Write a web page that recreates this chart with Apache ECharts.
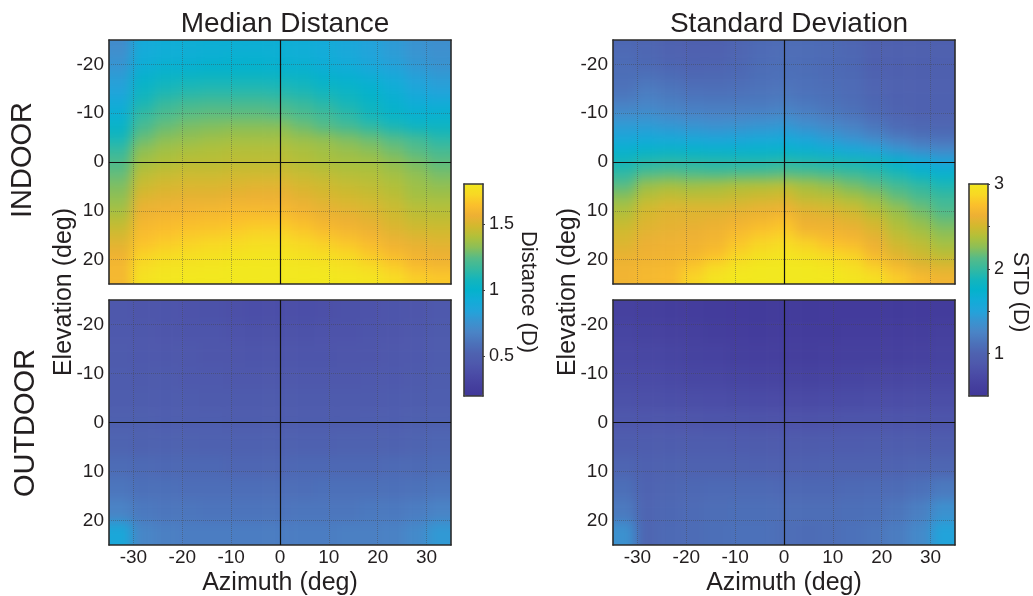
<!DOCTYPE html>
<html><head><meta charset="utf-8">
<style>html,body{margin:0;padding:0;background:#fff}#c{width:1033px;height:596px}
#c canvas[data-zr-dom-id="zr_0"]{filter:blur(6px);clip-path:inset(40px 582px 312px 109px)}
#c canvas[data-zr-dom-id="zr_1"]{filter:blur(6px);clip-path:inset(40px 78px 312px 613px)}
#c canvas[data-zr-dom-id="zr_2"]{filter:blur(6px);clip-path:inset(300px 582px 51px 109px)}
#c canvas[data-zr-dom-id="zr_3"]{filter:blur(6px);clip-path:inset(300px 78px 51px 613px)}
</style>
<script src="https://cdn.jsdelivr.net/npm/echarts@6/dist/echarts.min.js"></script>
</head><body><div id="c"></div>
<script>
const azimuthBins = [-32.7,-28,-23.3,-18.7,-14,-9.3,-4.7,0,4.7,9.3,14,18.7,23.3,28,32.7];
const elevationFine = [-23.8,-21.4,-19,-16.7,-14.3,-11.9,-9.5,-7.1,-4.8,-2.4,0,2.4,4.8,7.1,9.5,11.9,14.3,16.7,19,21.4,23.8];
const elevationCoarse = [-22.7,-18.2,-13.6,-9.1,-4.5,0,4.5,9.1,13.6,18.2,22.7];
const azimuthTicks = [-30,-20,-10,0,10,20,30];
const elevationTicks = [-20,-10,0,10,20];
const distanceTicks = [0.5,1,1.5];
const stdTicks = [1,1.5,2,2.5,3];
const stdTickLabels = [1,2,3];

const indoorMedian = [
[.72,.9,.93,.94,.95,.95,.95,.95,.93,.91,.88,.84,.8,.76,.74],
[.75,.92,.94,.95,.96,.97,.97,.96,.94,.92,.89,.85,.81,.77,.75],
[.78,.95,.98,.99,1.0,1.0,1.0,.99,.98,.95,.93,.89,.85,.8,.77],
[.82,1.01,1.05,1.07,1.08,1.08,1.08,1.07,1.05,1.01,.99,.96,.91,.84,.81],
[.85,1.05,1.1,1.12,1.13,1.13,1.13,1.12,1.1,1.07,1.04,1.0,.95,.88,.84],
[.91,1.1,1.17,1.2,1.21,1.21,1.21,1.2,1.17,1.13,1.09,1.04,.98,.93,.92],
[.96,1.16,1.22,1.25,1.26,1.26,1.26,1.25,1.22,1.19,1.14,1.08,1.02,.98,.98],
[1.02,1.21,1.27,1.3,1.31,1.32,1.32,1.32,1.28,1.24,1.2,1.15,1.1,1.05,1.05],
[1.09,1.27,1.32,1.34,1.36,1.37,1.37,1.37,1.35,1.33,1.3,1.27,1.23,1.19,1.13],
[1.16,1.33,1.37,1.39,1.4,1.41,1.41,1.41,1.39,1.37,1.35,1.32,1.28,1.24,1.2],
[1.22,1.37,1.4,1.42,1.42,1.43,1.43,1.43,1.41,1.39,1.38,1.37,1.33,1.29,1.25],
[1.26,1.42,1.45,1.46,1.46,1.47,1.47,1.47,1.45,1.43,1.41,1.4,1.37,1.33,1.29],
[1.3,1.46,1.49,1.5,1.5,1.51,1.52,1.52,1.49,1.47,1.45,1.43,1.4,1.36,1.33],
[1.33,1.51,1.53,1.54,1.54,1.55,1.56,1.56,1.53,1.5,1.48,1.46,1.43,1.38,1.37],
[1.37,1.55,1.57,1.58,1.59,1.6,1.6,1.6,1.57,1.54,1.52,1.5,1.46,1.42,1.41],
[1.42,1.59,1.61,1.62,1.63,1.64,1.65,1.65,1.62,1.58,1.56,1.53,1.49,1.45,1.44],
[1.47,1.62,1.64,1.66,1.67,1.68,1.7,1.7,1.67,1.63,1.6,1.57,1.52,1.49,1.48],
[1.52,1.65,1.68,1.7,1.72,1.73,1.75,1.75,1.72,1.69,1.66,1.62,1.57,1.54,1.52],
[1.57,1.7,1.73,1.75,1.76,1.77,1.78,1.78,1.76,1.74,1.72,1.67,1.62,1.58,1.56],
[1.6,1.74,1.77,1.78,1.79,1.8,1.8,1.8,1.79,1.78,1.76,1.73,1.68,1.62,1.6],
[1.6,1.77,1.79,1.8,1.8,1.8,1.8,1.8,1.8,1.8,1.79,1.78,1.74,1.69,1.67]];

const indoorStd = [
[1.05,1.03,1.0,.98,.98,1.02,1.06,1.08,1.08,1.06,1.03,.98,.97,.98,.98],
[1.07,1.04,1.01,.99,.99,1.03,1.07,1.09,1.08,1.06,1.04,.98,.97,.98,.98],
[1.09,1.08,1.05,1.02,1.03,1.05,1.09,1.1,1.09,1.07,1.05,.99,.98,.98,.98],
[1.1,1.14,1.1,1.06,1.06,1.08,1.1,1.12,1.1,1.08,1.06,1.01,.99,.98,.98],
[1.14,1.2,1.16,1.12,1.11,1.12,1.14,1.15,1.12,1.1,1.07,1.02,.99,.99,.99],
[1.23,1.26,1.22,1.19,1.18,1.18,1.18,1.2,1.17,1.13,1.09,1.04,1.0,.99,.99],
[1.33,1.34,1.3,1.27,1.26,1.26,1.27,1.29,1.24,1.19,1.14,1.07,1.02,1.0,1.0],
[1.45,1.45,1.42,1.39,1.37,1.38,1.4,1.42,1.36,1.3,1.24,1.16,1.07,1.04,1.03],
[1.56,1.59,1.57,1.54,1.52,1.53,1.55,1.57,1.52,1.44,1.37,1.29,1.2,1.14,1.12],
[1.72,1.76,1.77,1.75,1.73,1.73,1.74,1.75,1.71,1.65,1.59,1.51,1.4,1.32,1.28],
[1.88,1.94,1.96,1.95,1.94,1.93,1.93,1.95,1.93,1.91,1.89,1.85,1.73,1.62,1.52],
[1.98,2.1,2.13,2.1,2.08,2.1,2.11,2.13,2.11,2.07,2.03,1.98,1.9,1.78,1.73],
[2.13,2.3,2.34,2.32,2.34,2.37,2.38,2.4,2.34,2.28,2.2,2.14,2.05,1.98,1.9],
[2.25,2.4,2.45,2.43,2.43,2.46,2.48,2.5,2.42,2.4,2.34,2.27,2.16,2.08,2.02],
[2.36,2.5,2.55,2.55,2.55,2.57,2.6,2.62,2.55,2.52,2.47,2.37,2.28,2.18,2.08],
[2.43,2.54,2.58,2.58,2.6,2.64,2.68,2.73,2.62,2.6,2.56,2.48,2.35,2.26,2.17],
[2.5,2.58,2.6,2.62,2.65,2.71,2.77,2.81,2.68,2.67,2.63,2.55,2.41,2.34,2.25],
[2.54,2.62,2.64,2.65,2.68,2.78,2.86,2.9,2.84,2.76,2.72,2.62,2.48,2.42,2.33],
[2.6,2.64,2.66,2.68,2.75,2.86,2.93,2.96,2.93,2.88,2.84,2.7,2.56,2.48,2.42],
[2.65,2.68,2.7,2.78,2.88,2.96,3.0,3.0,3.0,2.97,2.92,2.82,2.7,2.58,2.54],
[2.66,2.7,2.72,2.86,2.96,3.0,3.0,3.0,3.0,3.0,2.97,2.93,2.82,2.72,2.66]];

const outdoorMedian = [
[.44,.43,.42,.41,.40,.39,.38,.38,.38,.39,.40,.41,.42,.43,.45],
[.45,.44,.43,.42,.42,.41,.40,.40,.40,.41,.41,.42,.43,.44,.46],
[.46,.45,.44,.44,.43,.43,.42,.42,.42,.42,.43,.43,.44,.45,.47],
[.47,.46,.46,.45,.45,.44,.44,.44,.44,.44,.44,.45,.45,.46,.48],
[.48,.48,.47,.47,.46,.46,.46,.46,.46,.46,.46,.46,.47,.48,.49],
[.50,.50,.49,.49,.49,.48,.48,.48,.48,.48,.48,.49,.49,.50,.51],
[.53,.52,.52,.52,.51,.51,.51,.51,.51,.51,.52,.52,.52,.53,.54],
[.57,.56,.55,.55,.55,.54,.54,.54,.55,.55,.55,.55,.56,.56,.57],
[.62,.59,.59,.58,.58,.58,.58,.58,.58,.59,.59,.59,.59,.60,.62],
[.68,.63,.62,.62,.61,.61,.61,.61,.62,.62,.62,.63,.63,.65,.68],
[.88,.69,.66,.65,.65,.65,.65,.65,.65,.65,.66,.66,.67,.71,.79]];

const outdoorStd = [
[.64,.62,.60,.58,.56,.55,.54,.54,.54,.55,.55,.55,.54,.55,.57],
[.68,.66,.64,.62,.60,.58,.56,.56,.56,.57,.58,.58,.58,.59,.62],
[.72,.70,.68,.66,.65,.63,.61,.60,.60,.61,.62,.63,.63,.64,.66],
[.76,.75,.73,.71,.70,.68,.67,.66,.66,.67,.68,.69,.69,.70,.71],
[.82,.80,.79,.78,.77,.76,.75,.74,.74,.75,.76,.77,.77,.78,.78],
[.88,.87,.87,.86,.85,.85,.84,.83,.83,.84,.85,.85,.85,.85,.85],
[.94,.94,.94,.94,.94,.93,.92,.91,.92,.93,.93,.94,.94,.94,.94],
[1.02,.99,1.0,1.0,1.0,1.0,.99,.98,.99,1.0,1.0,1.0,1.01,1.02,1.03],
[1.1,1.01,1.03,1.05,1.06,1.06,1.06,1.05,1.05,1.05,1.06,1.07,1.08,1.12,1.18],
[1.18,1.02,1.05,1.07,1.09,1.1,1.1,1.09,1.09,1.09,1.1,1.11,1.15,1.22,1.36],
[1.36,1.03,1.06,1.08,1.1,1.12,1.12,1.09,1.08,1.09,1.12,1.15,1.2,1.3,1.5]];

const colorRamp = ['#41389a','#45409e','#4a4ba6','#4e58ac','#4e62b0','#4c72ba','#4a84c6','#3a93d0','#22a3da','#12acd8','#04b2cc','#14b5bc','#35b9a0','#55bb88','#8abf58','#b0c03a','#d2b92e','#edb034','#fbbf2c','#f8d824','#f2e81e'];
const ink = '#231f20';
const fontFamily = '"Liberation Sans", Arial, sans-serif';
const top_layer = 4;
const PAD = 2;

const grids = [], xAxes = [], yAxes = [], series = [];
const noShow = {show: false};
function boxAxes(g, xOpt, yOpt, lineColor) {
  const edge = {show: true, onZero: false, lineStyle: {color: lineColor, width: 1.6}};
  const base = {gridIndex: g, type: 'value', zlevel: top_layer, z: 5, axisLine: edge, axisTick: noShow, axisLabel: noShow, splitLine: noShow};
  const xi = xAxes.length, yi = yAxes.length;
  xAxes.push(Object.assign({}, base, {position: 'bottom'}, xOpt));
  xAxes.push(Object.assign({}, base, {position: 'top', min: xOpt.min, max: xOpt.max}));
  yAxes.push(Object.assign({}, base, {position: 'left'}, yOpt.left));
  yAxes.push(Object.assign({}, base, {position: 'right'}, yOpt.right));
  return {xi, yi};
}
function padded(rows) {
  const wide = rows.map(r => [r[0], r[0], ...r, r[r.length - 1], r[r.length - 1]]);
  return [wide[0], wide[0], ...wide, wide[wide.length - 1], wide[wide.length - 1]];
}
function panel(layer, left, top, height, rows, yBins, showX) {
  const g = grids.length;
  grids.push({left, top, width: 342, height, show: false, outerBoundsMode: 'none'});
  const dotted = {show: true, lineStyle: {type: 'dotted', color: 'rgba(70,70,70,0.42)', width: 1}};
  const {xi, yi} = boxAxes(g,
    {min: -35, max: 35, axisTick: {show: false, customValues: azimuthTicks},
     axisLabel: showX ? {show: true, customValues: azimuthTicks, color: ink, fontSize: 19, fontFamily, margin: 3} : {show: false, customValues: azimuthTicks},
     splitLine: dotted, name: showX ? 'Azimuth (deg)' : '', nameLocation: 'middle', nameGap: 26,
     nameTextStyle: {color: ink, fontSize: 25, fontFamily}},
    {left: {inverse: true, min: -25, max: 25, axisTick: {show: false, customValues: elevationTicks},
       axisLabel: {show: true, customValues: elevationTicks, color: ink, fontSize: 19, fontFamily, margin: 5}, splitLine: dotted},
     right: {inverse: true, min: -25, max: 25}}, '#2b2b2b');

  // heatmap cells live on their own hidden axes, one canvas layer per panel
  const cw = 342 / azimuthBins.length, ch = height / yBins.length;
  const hg = grids.length;
  grids.push({left: left - PAD * cw, top: top - PAD * ch, width: 342 + 2 * PAD * cw, height: height + 2 * PAD * ch, show: false, outerBoundsMode: 'none'});
  const cellRows = padded(rows);
  const hx = xAxes.length, hy = yAxes.length;
  xAxes.push({gridIndex: hg, type: 'category', show: false, data: cellRows[0].map((_, i) => i)});
  yAxes.push({gridIndex: hg, type: 'category', show: false, inverse: true, data: cellRows.map((_, j) => j)});
  const cells = [];
  cellRows.forEach((row, j) => row.forEach((v, i) => cells.push([i, j, v])));
  series.push({type: 'heatmap', xAxisIndex: hx, yAxisIndex: hy, data: cells, silent: true, progressive: 0,
    itemStyle: {borderWidth: 0}, emphasis: {disabled: true}, animation: false, zlevel: layer, z: 2});
  series.push({type: 'line', xAxisIndex: xi, yAxisIndex: yi, data: [], silent: true, animation: false, zlevel: top_layer, z: 6,
    markLine: {silent: true, symbol: 'none', animation: false, zlevel: top_layer, z: 6, label: {show: false},
      lineStyle: {color: '#111', width: 1.2, type: 'solid'}, data: [{xAxis: 0}, {yAxis: 0}]}});
}
panel(0, 109, 40, 244, indoorMedian, elevationFine);
panel(1, 613, 40, 244, indoorStd, elevationFine);
panel(2, 109, 300, 245, outdoorMedian, elevationCoarse, true);
panel(3, 613, 300, 245, outdoorStd, elevationCoarse, true);

function colorbarAxis(left, min, max, ticks, labels) {
  const g = grids.length;
  grids.push({left, top: 184, width: 19, height: 212, show: false, outerBoundsMode: 'none'});
  boxAxes(g, {min: 0, max: 1},
    {left: {min, max},
     right: {min, max,
       axisTick: {show: true, inside: false, length: 2, customValues: ticks, lineStyle: {color: '#3a3a3a'}},
       axisLabel: {show: true, customValues: labels, color: ink, fontSize: 18, fontFamily, margin: 6}}}, '#3a3a3a');
}
colorbarAxis(464, 0.2, 1.8, distanceTicks, distanceTicks);
colorbarAxis(969, 0.5, 3, stdTicks, stdTickLabels);

function label(text, x, y, fontSize, rotation) {
  return {type: 'text', x, y, rotation, silent: true, zlevel: top_layer, z: 20,
    style: {text, fill: ink, font: fontSize + 'px ' + fontFamily, textAlign: 'center', textVerticalAlign: 'middle'}};
}
const titleStyle = {color: ink, fontSize: 28, fontWeight: 'normal', fontFamily};
const option = {
  animation: false,
  title: [
    {text: 'Median Distance', left: 280, top: 5, textAlign: 'center', zlevel: top_layer, textStyle: titleStyle},
    {text: 'Standard Deviation', left: 784, top: 5, textAlign: 'center', zlevel: top_layer, textStyle: titleStyle}
  ],
  grid: grids, xAxis: xAxes, yAxis: yAxes, series,
  visualMap: [
    {type: 'continuous', seriesIndex: [0, 4], min: 0.2, max: 1.8, left: 464, top: 184, itemWidth: 19, itemHeight: 212, padding: 0, calculable: false, hoverLink: false, text: null, showLabel: false, zlevel: top_layer, inRange: {color: colorRamp}},
    {type: 'continuous', seriesIndex: [2, 6], min: 0.5, max: 3, left: 969, top: 184, itemWidth: 19, itemHeight: 212, padding: 0, calculable: false, hoverLink: false, text: null, showLabel: false, zlevel: top_layer, inRange: {color: colorRamp}}
  ],
  graphic: [
    label('INDOOR', 23, 160, 29, Math.PI / 2),
    label('OUTDOOR', 26, 423, 29, Math.PI / 2),
    label('Elevation (deg)', 64, 292, 25, Math.PI / 2),
    label('Elevation (deg)', 568, 292, 25, Math.PI / 2),
    label('Distance (D)', 528, 292, 22, -Math.PI / 2),
    label('STD (D)', 1020, 292, 22, -Math.PI / 2)
  ]
};
echarts.init(document.getElementById('c'), null, {renderer: 'canvas'}).setOption(option);
</script></body></html>
